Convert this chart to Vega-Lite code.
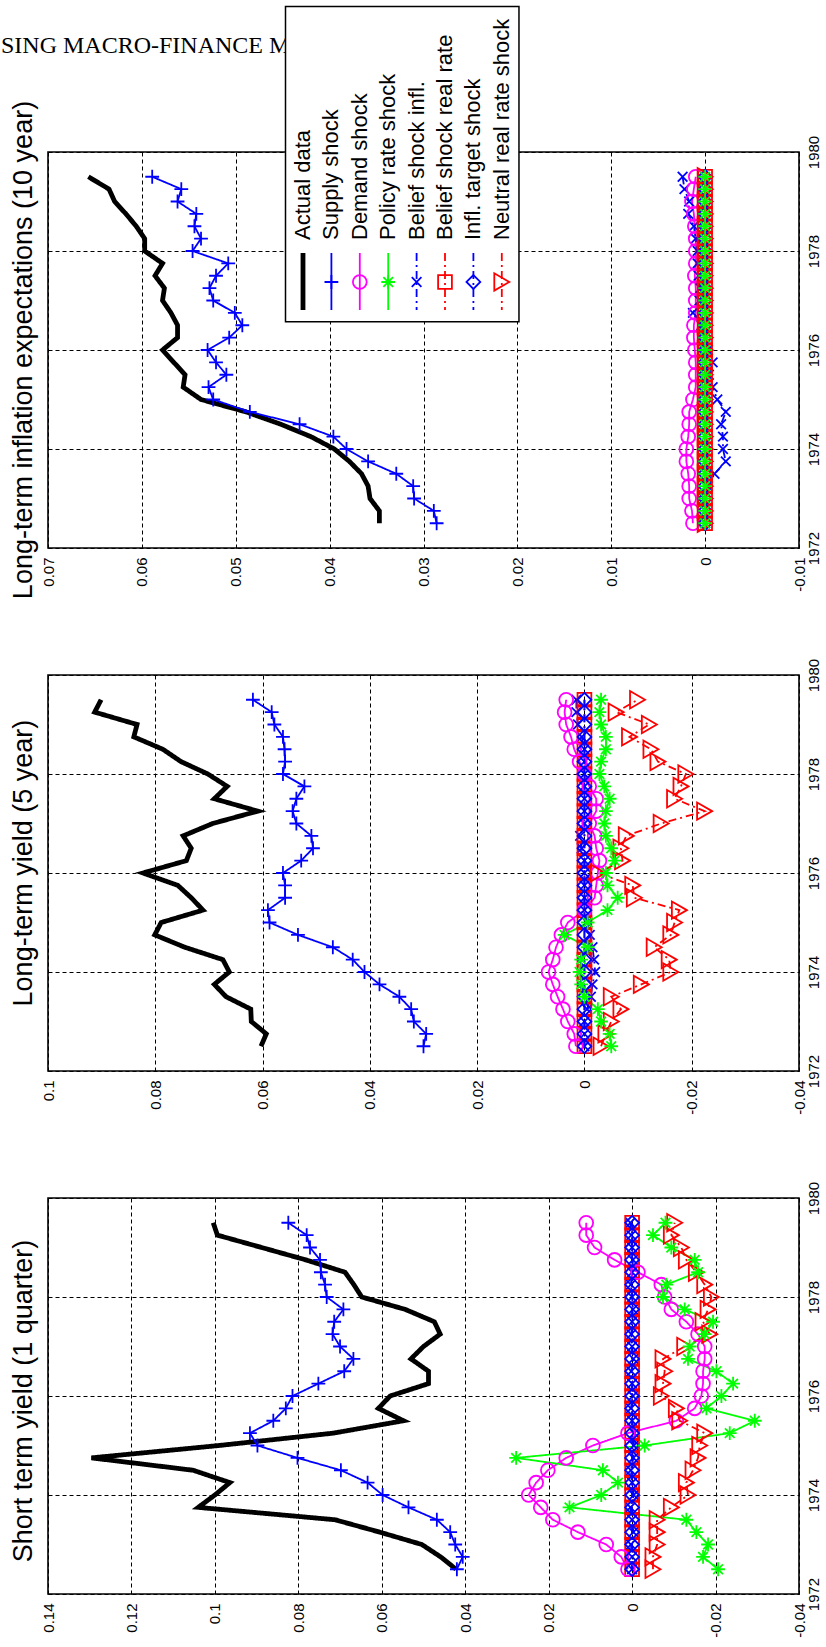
{
  "$schema": "https://vega.github.io/schema/vega-lite/v6.json",
  "background": "white",
  "padding": {"left": 0, "top": 4, "right": 0, "bottom": 0},
  "datasets": {
    "decomp": [
      {"p": 1, "t": 1972.5, "act": 0.0422, "sup": 0.042, "dem": 0.001, "pol": -0.0206, "bi": 0, "br": 0, "it": 0, "nr": -0.005},
      {"p": 1, "t": 1972.75, "act": 0.0459, "sup": 0.0406, "dem": 0.0026, "pol": -0.017, "bi": 0, "br": 0, "it": 0, "nr": -0.005},
      {"p": 1, "t": 1973, "act": 0.0504, "sup": 0.0424, "dem": 0.0062, "pol": -0.0182, "bi": 0.0003, "br": 0, "it": 0, "nr": -0.006},
      {"p": 1, "t": 1973.25, "act": 0.0605, "sup": 0.0436, "dem": 0.013, "pol": -0.0154, "bi": -0.0003, "br": 0, "it": 0, "nr": -0.006},
      {"p": 1, "t": 1973.5, "act": 0.0712, "sup": 0.0468, "dem": 0.019, "pol": -0.013, "bi": 0, "br": 0, "it": 0, "nr": -0.006},
      {"p": 1, "t": 1973.75, "act": 0.104, "sup": 0.0536, "dem": 0.0219, "pol": 0.015, "bi": 0.0004, "br": 0, "it": 0, "nr": -0.0094},
      {"p": 1, "t": 1974, "act": 0.1, "sup": 0.0598, "dem": 0.0248, "pol": 0.0074, "bi": -0.0004, "br": 0, "it": 0, "nr": -0.0134},
      {"p": 1, "t": 1974.25, "act": 0.0964, "sup": 0.0634, "dem": 0.023, "pol": 0.0034, "bi": 0, "br": 0, "it": 0, "nr": -0.013},
      {"p": 1, "t": 1974.5, "act": 0.1052, "sup": 0.0698, "dem": 0.0202, "pol": 0.007, "bi": 0.0003, "br": 0, "it": 0, "nr": -0.0146},
      {"p": 1, "t": 1974.75, "act": 0.1296, "sup": 0.0802, "dem": 0.0158, "pol": 0.0278, "bi": -0.0003, "br": 0, "it": 0, "nr": -0.0158},
      {"p": 1, "t": 1975, "act": 0.099, "sup": 0.0898, "dem": 0.0094, "pol": -0.003, "bi": -0.0004, "br": 0, "it": 0, "nr": -0.0162},
      {"p": 1, "t": 1975.25, "act": 0.0716, "sup": 0.0916, "dem": 0.001, "pol": -0.0234, "bi": -0.0005, "br": 0, "it": 0, "nr": -0.0174},
      {"p": 1, "t": 1975.5, "act": 0.0548, "sup": 0.086, "dem": -0.0106, "pol": -0.0294, "bi": 0, "br": 0, "it": 0, "nr": -0.0114},
      {"p": 1, "t": 1975.75, "act": 0.0608, "sup": 0.083, "dem": -0.015, "pol": -0.0178, "bi": 0.0003, "br": 0, "it": 0, "nr": -0.0106},
      {"p": 1, "t": 1976, "act": 0.058, "sup": 0.0814, "dem": -0.0166, "pol": -0.0214, "bi": -0.0002, "br": 0, "it": 0, "nr": -0.007},
      {"p": 1, "t": 1976.25, "act": 0.0488, "sup": 0.0752, "dem": -0.017, "pol": -0.0242, "bi": 0, "br": 0, "it": 0, "nr": -0.0074},
      {"p": 1, "t": 1976.5, "act": 0.0488, "sup": 0.069, "dem": -0.017, "pol": -0.0202, "bi": 0.0002, "br": 0, "it": 0, "nr": -0.0078},
      {"p": 1, "t": 1976.75, "act": 0.053, "sup": 0.0668, "dem": -0.0174, "pol": -0.0134, "bi": -0.0003, "br": 0, "it": 0, "nr": -0.0074},
      {"p": 1, "t": 1977, "act": 0.05, "sup": 0.07, "dem": -0.0174, "pol": -0.0138, "bi": 0, "br": 0, "it": 0, "nr": -0.0126},
      {"p": 1, "t": 1977.25, "act": 0.046, "sup": 0.0718, "dem": -0.0158, "pol": -0.0174, "bi": 0.0002, "br": 0, "it": 0, "nr": -0.0186},
      {"p": 1, "t": 1977.5, "act": 0.0474, "sup": 0.0714, "dem": -0.013, "pol": -0.0194, "bi": 0, "br": 0, "it": 0, "nr": -0.017},
      {"p": 1, "t": 1977.75, "act": 0.0544, "sup": 0.0692, "dem": -0.0094, "pol": -0.0126, "bi": -0.0002, "br": 0, "it": 0, "nr": -0.0182},
      {"p": 1, "t": 1978, "act": 0.0648, "sup": 0.0732, "dem": -0.0078, "pol": -0.0074, "bi": 0, "br": 0, "it": 0, "nr": -0.019},
      {"p": 1, "t": 1978.25, "act": 0.0667, "sup": 0.0736, "dem": -0.007, "pol": -0.0082, "bi": 0.0003, "br": 0, "it": 0, "nr": -0.0174},
      {"p": 1, "t": 1978.5, "act": 0.0688, "sup": 0.0746, "dem": -0.0014, "pol": -0.0158, "bi": 0, "br": 0, "it": 0, "nr": -0.0154},
      {"p": 1, "t": 1978.75, "act": 0.0782, "sup": 0.0748, "dem": 0.0042, "pol": -0.015, "bi": -0.0002, "br": 0, "it": 0, "nr": -0.013},
      {"p": 1, "t": 1979, "act": 0.0888, "sup": 0.0772, "dem": 0.009, "pol": -0.0094, "bi": 0, "br": 0, "it": 0, "nr": -0.0118},
      {"p": 1, "t": 1979.25, "act": 0.0994, "sup": 0.078, "dem": 0.011, "pol": -0.005, "bi": 0.0002, "br": 0, "it": 0, "nr": -0.0094},
      {"p": 1, "t": 1979.5, "act": 0.1004, "sup": 0.0824, "dem": 0.011, "pol": -0.008, "bi": 0.0004, "br": 0, "it": 0, "nr": -0.0102},

      {"p": 2, "t": 1972.5, "act": 0.0603, "sup": 0.03, "dem": 0.0016, "pol": -0.005, "bi": 0, "br": 0, "it": 0, "nr": -0.0031},
      {"p": 2, "t": 1972.75, "act": 0.0593, "sup": 0.0295, "dem": 0.0019, "pol": -0.0047, "bi": 0, "br": 0, "it": 0, "nr": -0.004},
      {"p": 2, "t": 1973, "act": 0.0621, "sup": 0.0318, "dem": 0.0031, "pol": -0.0031, "bi": 0, "br": 0, "it": 0, "nr": -0.005},
      {"p": 2, "t": 1973.25, "act": 0.0622, "sup": 0.0323, "dem": 0.004, "pol": -0.0025, "bi": -0.0005, "br": 0, "it": 0, "nr": -0.0068},
      {"p": 2, "t": 1973.5, "act": 0.0668, "sup": 0.0345, "dem": 0.005, "pol": 0, "bi": -0.0012, "br": 0, "it": 0, "nr": -0.005},
      {"p": 2, "t": 1973.75, "act": 0.069, "sup": 0.0382, "dem": 0.0059, "pol": 0.0006, "bi": -0.0015, "br": 0, "it": 0, "nr": -0.0106},
      {"p": 2, "t": 1974, "act": 0.0662, "sup": 0.041, "dem": 0.0067, "pol": 0.0009, "bi": -0.002, "br": 0, "it": 0, "nr": -0.0161},
      {"p": 2, "t": 1974.25, "act": 0.0674, "sup": 0.0432, "dem": 0.0059, "pol": 0.0006, "bi": -0.0018, "br": 0, "it": 0, "nr": -0.0158},
      {"p": 2, "t": 1974.5, "act": 0.0745, "sup": 0.0469, "dem": 0.0053, "pol": -0.0006, "bi": -0.0015, "br": 0, "it": 0, "nr": -0.013},
      {"p": 2, "t": 1974.75, "act": 0.0801, "sup": 0.0534, "dem": 0.0043, "pol": 0.0037, "bi": -0.001, "br": 0, "it": 0, "nr": -0.0161},
      {"p": 2, "t": 1975, "act": 0.0789, "sup": 0.0587, "dem": 0.0031, "pol": -0.0006, "bi": -0.0005, "br": 0, "it": 0, "nr": -0.0168},
      {"p": 2, "t": 1975.25, "act": 0.0711, "sup": 0.059, "dem": 0, "pol": -0.0043, "bi": 0, "br": 0, "it": 0, "nr": -0.0177},
      {"p": 2, "t": 1975.5, "act": 0.0733, "sup": 0.0558, "dem": -0.0019, "pol": -0.0062, "bi": 0, "br": 0, "it": 0, "nr": -0.0093},
      {"p": 2, "t": 1975.75, "act": 0.0758, "sup": 0.0558, "dem": -0.0022, "pol": -0.0043, "bi": 0, "br": 0, "it": 0, "nr": -0.009},
      {"p": 2, "t": 1976, "act": 0.0823, "sup": 0.0562, "dem": -0.0025, "pol": -0.004, "bi": 0, "br": 0, "it": 0, "nr": -0.0025},
      {"p": 2, "t": 1976.25, "act": 0.0742, "sup": 0.0528, "dem": -0.0028, "pol": -0.0056, "bi": 0, "br": 0, "it": 0, "nr": -0.0071},
      {"p": 2, "t": 1976.5, "act": 0.0733, "sup": 0.0506, "dem": -0.0022, "pol": -0.005, "bi": 0.0005, "br": 0, "it": 0, "nr": -0.0068},
      {"p": 2, "t": 1976.75, "act": 0.0748, "sup": 0.0509, "dem": -0.0019, "pol": -0.004, "bi": 0.0008, "br": 0, "it": 0, "nr": -0.0078},
      {"p": 2, "t": 1977, "act": 0.0693, "sup": 0.0537, "dem": -0.0009, "pol": -0.0037, "bi": 0, "br": 0, "it": 0, "nr": -0.0143},
      {"p": 2, "t": 1977.25, "act": 0.0609, "sup": 0.0544, "dem": -0.0022, "pol": -0.004, "bi": 0, "br": 0, "it": 0, "nr": -0.0224},
      {"p": 2, "t": 1977.5, "act": 0.069, "sup": 0.0537, "dem": -0.0022, "pol": -0.0047, "bi": 0, "br": 0, "it": 0, "nr": -0.0168},
      {"p": 2, "t": 1977.75, "act": 0.0666, "sup": 0.0522, "dem": -0.0009, "pol": -0.0037, "bi": 0, "br": 0, "it": 0, "nr": -0.018},
      {"p": 2, "t": 1978, "act": 0.0702, "sup": 0.0562, "dem": 0, "pol": -0.0028, "bi": 0, "br": 0, "it": 0, "nr": -0.0189},
      {"p": 2, "t": 1978.25, "act": 0.0752, "sup": 0.0558, "dem": 0.0009, "pol": -0.0031, "bi": 0, "br": 0, "it": 0, "nr": -0.0137},
      {"p": 2, "t": 1978.5, "act": 0.0786, "sup": 0.0559, "dem": 0.0019, "pol": -0.004, "bi": 0, "br": 0, "it": 0, "nr": -0.0124},
      {"p": 2, "t": 1978.75, "act": 0.084, "sup": 0.0562, "dem": 0.0025, "pol": -0.004, "bi": 0.0005, "br": 0, "it": 0, "nr": -0.0084},
      {"p": 2, "t": 1979, "act": 0.0834, "sup": 0.0578, "dem": 0.0034, "pol": -0.0031, "bi": 0.0012, "br": 0, "it": 0, "nr": -0.0121},
      {"p": 2, "t": 1979.25, "act": 0.0913, "sup": 0.0583, "dem": 0.0037, "pol": -0.0028, "bi": 0.0015, "br": 0, "it": 0, "nr": -0.0059},
      {"p": 2, "t": 1979.5, "act": 0.0901, "sup": 0.0618, "dem": 0.0034, "pol": -0.0031, "bi": 0.0015, "br": 0, "it": 0, "nr": -0.0099},

      {"p": 3, "t": 1972.5, "act": 0.0347, "sup": 0.0286, "dem": 0.0013, "pol": 0, "bi": 0, "br": 0, "it": 0, "nr": 0},
      {"p": 3, "t": 1972.75, "act": 0.0347, "sup": 0.0289, "dem": 0.0014, "pol": 0, "bi": 0, "br": 0, "it": 0, "nr": 0},
      {"p": 3, "t": 1973, "act": 0.0357, "sup": 0.031, "dem": 0.0017, "pol": 0, "bi": 0.0001, "br": 0, "it": 0, "nr": 0},
      {"p": 3, "t": 1973.25, "act": 0.0359, "sup": 0.0311, "dem": 0.0017, "pol": 0, "bi": -0.0003, "br": 0, "it": 0, "nr": 0},
      {"p": 3, "t": 1973.5, "act": 0.0366, "sup": 0.0329, "dem": 0.0018, "pol": 0, "bi": -0.001, "br": 0, "it": 0, "nr": 0},
      {"p": 3, "t": 1973.75, "act": 0.0379, "sup": 0.0359, "dem": 0.002, "pol": 0, "bi": -0.0022, "br": 0, "it": 0, "nr": 0},
      {"p": 3, "t": 1974, "act": 0.0395, "sup": 0.0382, "dem": 0.002, "pol": 0, "bi": -0.0019, "br": 0, "it": 0, "nr": 0},
      {"p": 3, "t": 1974.25, "act": 0.042, "sup": 0.0396, "dem": 0.0018, "pol": 0, "bi": -0.0019, "br": 0, "it": 0, "nr": 0},
      {"p": 3, "t": 1974.5, "act": 0.0452, "sup": 0.0432, "dem": 0.0017, "pol": 0, "bi": -0.0017, "br": 0, "it": 0, "nr": 0},
      {"p": 3, "t": 1974.75, "act": 0.0489, "sup": 0.0485, "dem": 0.0017, "pol": 0, "bi": -0.0022, "br": 0, "it": 0, "nr": 0},
      {"p": 3, "t": 1975, "act": 0.0537, "sup": 0.0524, "dem": 0.0013, "pol": 0, "bi": -0.0013, "br": 0, "it": 0, "nr": 0},
      {"p": 3, "t": 1975.25, "act": 0.0556, "sup": 0.0529, "dem": 0.001, "pol": 0, "bi": -0.0008, "br": 0, "it": 0, "nr": 0},
      {"p": 3, "t": 1975.5, "act": 0.0554, "sup": 0.051, "dem": 0.001, "pol": 0, "bi": -0.0004, "br": 0, "it": 0, "nr": 0},
      {"p": 3, "t": 1975.75, "act": 0.0566, "sup": 0.0521, "dem": 0.001, "pol": 0, "bi": -0.0008, "br": 0, "it": 0, "nr": 0},
      {"p": 3, "t": 1976, "act": 0.0578, "sup": 0.053, "dem": 0.0011, "pol": 0, "bi": -0.0003, "br": 0, "it": 0, "nr": 0},
      {"p": 3, "t": 1976.25, "act": 0.0562, "sup": 0.0507, "dem": 0.0012, "pol": 0, "bi": 0, "br": 0, "it": 0, "nr": 0},
      {"p": 3, "t": 1976.5, "act": 0.0562, "sup": 0.0493, "dem": 0.0012, "pol": 0, "bi": 0.0004, "br": 0, "it": 0, "nr": 0},
      {"p": 3, "t": 1976.75, "act": 0.0569, "sup": 0.0501, "dem": 0.001, "pol": 0, "bi": 0.0013, "br": 0, "it": 0, "nr": 0},
      {"p": 3, "t": 1977, "act": 0.0578, "sup": 0.0524, "dem": 0.001, "pol": 0, "bi": 0.0006, "br": 0, "it": 0, "nr": 0},
      {"p": 3, "t": 1977.25, "act": 0.0576, "sup": 0.0528, "dem": 0.001, "pol": 0, "bi": 0.0005, "br": 0, "it": 0, "nr": 0},
      {"p": 3, "t": 1977.5, "act": 0.0586, "sup": 0.0521, "dem": 0.0011, "pol": 0, "bi": 0.0007, "br": 0, "it": 0, "nr": 0},
      {"p": 3, "t": 1977.75, "act": 0.0578, "sup": 0.0508, "dem": 0.001, "pol": 0, "bi": 0.0008, "br": 0, "it": 0, "nr": 0},
      {"p": 3, "t": 1978, "act": 0.0597, "sup": 0.0546, "dem": 0.001, "pol": 0, "bi": 0.0008, "br": 0, "it": 0, "nr": 0},
      {"p": 3, "t": 1978.25, "act": 0.0597, "sup": 0.0537, "dem": 0.001, "pol": 0, "bi": 0.001, "br": 0, "it": 0, "nr": 0},
      {"p": 3, "t": 1978.5, "act": 0.0606, "sup": 0.0544, "dem": 0.0011, "pol": 0, "bi": 0.0012, "br": 0, "it": 0, "nr": 0},
      {"p": 3, "t": 1978.75, "act": 0.0617, "sup": 0.0542, "dem": 0.0012, "pol": 0, "bi": 0.0018, "br": 0, "it": 0, "nr": 0},
      {"p": 3, "t": 1979, "act": 0.0629, "sup": 0.0562, "dem": 0.0014, "pol": 0, "bi": 0.0017, "br": 0, "it": 0, "nr": 0},
      {"p": 3, "t": 1979.25, "act": 0.0635, "sup": 0.0558, "dem": 0.0012, "pol": 0, "bi": 0.0022, "br": 0, "it": 0, "nr": 0},
      {"p": 3, "t": 1979.5, "act": 0.0657, "sup": 0.0589, "dem": 0.001, "pol": 0, "bi": 0.0024, "br": 0, "it": 0, "nr": 0}
    ],
    "legendEntries": [
      {"s": "act", "label": "Actual data"},
      {"s": "sup", "label": "Supply shock"},
      {"s": "dem", "label": "Demand shock"},
      {"s": "pol", "label": "Policy rate shock"},
      {"s": "bi", "label": "Belief shock infl."},
      {"s": "br", "label": "Belief shock real rate"},
      {"s": "it", "label": "Infl. target shock"},
      {"s": "nr", "label": "Neutral real rate shock"}
    ]
  },
  "data": {"name": "decomp"},
  "spacing": 127,
  "bounds": "flush",
  "vconcat": [
    {
      "width": 751,
      "height": 396,
      "transform": [
        {"filter": "datum.p == 3"},
        {"fold": ["act", "sup", "dem", "pol", "bi", "br", "it", "nr"], "as": ["s", "v"]}
      ],
      "layer": [
        {
          "layer": [
            {
              "mark": {"type": "line"},
              "encoding": {
                "x": {"field": "v", "type": "quantitative", "title": null,
                  "scale": {"domain": [-0.01, 0.07], "reverse": true, "nice": false, "zero": false},
                  "axis": {"orient": "bottom", "values": [-0.01, 0, 0.01, 0.02, 0.03, 0.04, 0.05, 0.06, 0.07], "labelExpr": "'' + datum.value", "labelAngle": -90, "labelAlign": "right", "labelBaseline": "middle", "labelPadding": 9, "labelFont": "Liberation Sans", "labelFontSize": 15, "labelColor": "black", "grid": true, "gridColor": "black", "gridDash": [4, 3], "gridOpacity": 1, "gridWidth": 1, "ticks": false, "domain": false, "labelFlush": false, "labelOverlap": false}},
                "y": {"field": "t", "type": "quantitative", "title": null,
                  "scale": {"domain": [1972, 1980], "nice": false, "zero": false},
                  "axis": {"orient": "right", "values": [1972, 1974, 1976, 1978, 1980], "labelExpr": "'' + datum.value", "labelAngle": -90, "labelAlign": "center", "labelBaseline": "top", "labelPadding": 7, "labelFont": "Liberation Sans", "labelFontSize": 15, "labelColor": "black", "grid": true, "gridColor": "black", "gridDash": [4, 3], "gridOpacity": 1, "gridWidth": 1, "ticks": false, "domain": false, "labelFlush": false, "labelOverlap": false}},
                "color": {"field": "s", "type": "nominal", "legend": null,
                  "scale": {"domain": ["act", "sup", "dem", "pol", "bi", "br", "it", "nr"], "range": ["#000000", "#0000ff", "#ff00ff", "#00ff00", "#0000ff", "#ff0000", "#0000ff", "#ff0000"]}},
                "detail": {"field": "s", "type": "nominal"},
                "order": {"field": "t", "type": "quantitative"},
                "strokeWidth": {"condition": {"test": "datum.s === 'act'", "value": 4.8}, "value": 1.8},
                "strokeDash": {"condition": {"test": "indexof(['bi', 'br', 'it', 'nr'], datum.s) >= 0", "value": [8, 4, 2, 4]}, "value": [1, 0]}
              }
            },
            {
              "transform": [{"filter": "datum.s !== 'act'"}],
              "mark": {"type": "point", "filled": false, "opacity": 1, "strokeWidth": 1.8},
              "encoding": {
                "x": {"field": "v", "type": "quantitative", "title": null, "scale": {"domain": [-0.01, 0.07], "reverse": true, "nice": false, "zero": false}},
                "y": {"field": "t", "type": "quantitative", "title": null, "scale": {"domain": [1972, 1980], "nice": false, "zero": false}},
                "color": {"field": "s", "type": "nominal", "legend": null,
                  "scale": {"domain": ["act", "sup", "dem", "pol", "bi", "br", "it", "nr"], "range": ["#000000", "#0000ff", "#ff00ff", "#00ff00", "#0000ff", "#ff0000", "#0000ff", "#ff0000"]}},
                "shape": {"field": "s", "type": "nominal", "legend": null,
                  "scale": {"domain": ["act", "sup", "dem", "pol", "bi", "br", "it", "nr"], "range": ["circle", "M-1,0L1,0M0,-1L0,1", "circle", "M-1,0L1,0M0,-1L0,1M-0.7,-0.7L0.7,0.7M-0.7,0.7L0.7,-0.7", "M-0.7,-0.7L0.7,0.7M-0.7,0.7L0.7,-0.7", "square", "diamond", "triangle-right"]}},
                "size": {"condition": {"test": "datum.s === 'nr'", "value": 300}, "value": 190},
                "order": {"field": "s", "type": "nominal"}
              }
            },
            {
              "data": {"values": [{}]},
              "mark": {"type": "text", "angle": -90, "align": "center", "baseline": "middle", "font": "Liberation Sans", "fontSize": 27, "color": "black"},
              "encoding": {
                "x": {"datum": 0.072557, "type": "quantitative", "title": null, "scale": {"domain": [-0.01, 0.07], "reverse": true, "nice": false, "zero": false}},
                "y": {"datum": 1976, "type": "quantitative", "title": null, "scale": {"domain": [1972, 1980], "nice": false, "zero": false}},
                "text": {"value": "Long-term inflation expectations (10 year)"}
              }
            },
            {
              "data": {"values": [{}]},
              "mark": {"type": "text", "align": "left", "baseline": "alphabetic", "font": "Liberation Serif", "fontSize": 24, "color": "black"},
              "encoding": {
                "x": {"datum": 0.075007, "type": "quantitative", "title": null, "scale": {"domain": [-0.01, 0.07], "reverse": true, "nice": false, "zero": false}},
                "y": {"datum": 1981.99, "type": "quantitative", "title": null, "scale": {"domain": [1972, 1980], "nice": false, "zero": false}},
                "text": {"value": "SING MACRO-FINANCE MODELS"}
              }
            },
            {
              "data": {"values": [{}]},
              "mark": {"type": "rect", "fill": "white", "stroke": "black", "strokeWidth": 1.5},
              "encoding": {
                "x": {"datum": 0.0447, "type": "quantitative", "title": null, "scale": {"domain": [-0.01, 0.07], "reverse": true, "nice": false, "zero": false}},
                "x2": {"datum": 0.01983},
                "y": {"datum": 1982.94, "type": "quantitative", "title": null, "scale": {"domain": [1972, 1980], "nice": false, "zero": false}},
                "y2": {"datum": 1976.572}
              }
            }
          ]
        },
        {
          "data": {"name": "legendEntries"},
          "encoding": {
            "x": {"field": "s", "type": "nominal", "title": null, "axis": null,
              "scale": {"type": "point", "domain": ["act", "sup", "dem", "pol", "bi", "br", "it", "nr"], "range": [255, 453.8], "padding": 0}},
            "color": {"field": "s", "type": "nominal", "legend": null,
              "scale": {"domain": ["act", "sup", "dem", "pol", "bi", "br", "it", "nr"], "range": ["#000000", "#0000ff", "#ff00ff", "#00ff00", "#0000ff", "#ff0000", "#0000ff", "#ff0000"]}}
          },
          "layer": [
            {
              "mark": {"type": "rule"},
              "encoding": {
                "y": {"datum": 1977.96, "type": "quantitative", "title": null, "scale": {"domain": [1972, 1980], "nice": false, "zero": false}},
                "y2": {"datum": 1976.81},
                "strokeWidth": {"condition": {"test": "datum.s === 'act'", "value": 4.8}, "value": 1.8},
                "strokeDash": {"condition": {"test": "indexof(['bi', 'br', 'it', 'nr'], datum.s) >= 0", "value": [8, 4, 2, 4]}, "value": [1, 0]}
              }
            },
            {
              "transform": [{"filter": "datum.s !== 'act'"}],
              "mark": {"type": "point", "filled": false, "opacity": 1, "strokeWidth": 1.8},
              "encoding": {
                "y": {"datum": 1977.374, "type": "quantitative", "title": null, "scale": {"domain": [1972, 1980], "nice": false, "zero": false}},
                "shape": {"field": "s", "type": "nominal", "legend": null,
                  "scale": {"domain": ["act", "sup", "dem", "pol", "bi", "br", "it", "nr"], "range": ["circle", "M-1,0L1,0M0,-1L0,1", "circle", "M-1,0L1,0M0,-1L0,1M-0.7,-0.7L0.7,0.7M-0.7,0.7L0.7,-0.7", "M-0.7,-0.7L0.7,0.7M-0.7,0.7L0.7,-0.7", "square", "diamond", "triangle-right"]}},
                "size": {"condition": {"test": "datum.s === 'nr'", "value": 300}, "value": 190}
              }
            },
            {
              "mark": {"type": "text", "angle": -90, "align": "left", "baseline": "middle", "font": "Liberation Sans", "fontSize": 22},
              "encoding": {
                "y": {"datum": 1978.222, "type": "quantitative", "title": null, "scale": {"domain": [1972, 1980], "nice": false, "zero": false}},
                "text": {"field": "label", "type": "nominal"},
                "color": {"value": "black"}
              }
            }
          ]
        }
      ],
      "resolve": {"scale": {"x": "independent"}}
    },
    {
      "width": 751,
      "height": 396,
      "transform": [
        {"filter": "datum.p == 2"},
        {"fold": ["act", "sup", "dem", "pol", "bi", "br", "it", "nr"], "as": ["s", "v"]}
      ],
      "layer": [
        {
          "mark": {"type": "line"},
          "encoding": {
            "x": {"field": "v", "type": "quantitative", "title": null,
              "scale": {"domain": [-0.04, 0.1], "reverse": true, "nice": false, "zero": false},
              "axis": {"orient": "bottom", "values": [-0.04, -0.02, 0, 0.02, 0.04, 0.06, 0.08, 0.1], "labelExpr": "'' + datum.value", "labelAngle": -90, "labelAlign": "right", "labelBaseline": "middle", "labelPadding": 9, "labelFont": "Liberation Sans", "labelFontSize": 15, "labelColor": "black", "grid": true, "gridColor": "black", "gridDash": [4, 3], "gridOpacity": 1, "gridWidth": 1, "ticks": false, "domain": false, "labelFlush": false, "labelOverlap": false}},
            "y": {"field": "t", "type": "quantitative", "title": null,
              "scale": {"domain": [1972, 1980], "nice": false, "zero": false},
              "axis": {"orient": "right", "values": [1972, 1974, 1976, 1978, 1980], "labelExpr": "'' + datum.value", "labelAngle": -90, "labelAlign": "center", "labelBaseline": "top", "labelPadding": 7, "labelFont": "Liberation Sans", "labelFontSize": 15, "labelColor": "black", "grid": true, "gridColor": "black", "gridDash": [4, 3], "gridOpacity": 1, "gridWidth": 1, "ticks": false, "domain": false, "labelFlush": false, "labelOverlap": false}},
            "color": {"field": "s", "type": "nominal", "legend": null,
              "scale": {"domain": ["act", "sup", "dem", "pol", "bi", "br", "it", "nr"], "range": ["#000000", "#0000ff", "#ff00ff", "#00ff00", "#0000ff", "#ff0000", "#0000ff", "#ff0000"]}},
            "detail": {"field": "s", "type": "nominal"},
            "order": {"field": "t", "type": "quantitative"},
            "strokeWidth": {"condition": {"test": "datum.s === 'act'", "value": 4.8}, "value": 1.8},
            "strokeDash": {"condition": {"test": "indexof(['bi', 'br', 'it', 'nr'], datum.s) >= 0", "value": [8, 4, 2, 4]}, "value": [1, 0]}
          }
        },
        {
          "transform": [{"filter": "datum.s !== 'act'"}],
          "mark": {"type": "point", "filled": false, "opacity": 1, "strokeWidth": 1.8},
          "encoding": {
            "x": {"field": "v", "type": "quantitative", "title": null, "scale": {"domain": [-0.04, 0.1], "reverse": true, "nice": false, "zero": false}},
            "y": {"field": "t", "type": "quantitative", "title": null, "scale": {"domain": [1972, 1980], "nice": false, "zero": false}},
            "color": {"field": "s", "type": "nominal", "legend": null,
              "scale": {"domain": ["act", "sup", "dem", "pol", "bi", "br", "it", "nr"], "range": ["#000000", "#0000ff", "#ff00ff", "#00ff00", "#0000ff", "#ff0000", "#0000ff", "#ff0000"]}},
            "shape": {"field": "s", "type": "nominal", "legend": null,
              "scale": {"domain": ["act", "sup", "dem", "pol", "bi", "br", "it", "nr"], "range": ["circle", "M-1,0L1,0M0,-1L0,1", "circle", "M-1,0L1,0M0,-1L0,1M-0.7,-0.7L0.7,0.7M-0.7,0.7L0.7,-0.7", "M-0.7,-0.7L0.7,0.7M-0.7,0.7L0.7,-0.7", "square", "diamond", "triangle-right"]}},
            "size": {"condition": {"test": "datum.s === 'nr'", "value": 300}, "value": 190},
            "order": {"field": "s", "type": "nominal"}
          }
        },
        {
          "data": {"values": [{}]},
          "mark": {"type": "text", "angle": -90, "align": "center", "baseline": "middle", "font": "Liberation Sans", "fontSize": 27, "color": "black"},
          "encoding": {
            "x": {"datum": 0.104474, "type": "quantitative", "title": null, "scale": {"domain": [-0.04, 0.1], "reverse": true, "nice": false, "zero": false}},
            "y": {"datum": 1976.2, "type": "quantitative", "title": null, "scale": {"domain": [1972, 1980], "nice": false, "zero": false}},
            "text": {"value": "Long-term yield (5 year)"}
          }
        }
      ]
    },
    {
      "width": 751,
      "height": 396,
      "transform": [
        {"filter": "datum.p == 1"},
        {"fold": ["act", "sup", "dem", "pol", "bi", "br", "it", "nr"], "as": ["s", "v"]}
      ],
      "layer": [
        {
          "mark": {"type": "line"},
          "encoding": {
            "x": {"field": "v", "type": "quantitative", "title": null,
              "scale": {"domain": [-0.04, 0.14], "reverse": true, "nice": false, "zero": false},
              "axis": {"orient": "bottom", "values": [-0.04, -0.02, 0, 0.02, 0.04, 0.06, 0.08, 0.1, 0.12, 0.14], "labelExpr": "'' + datum.value", "labelAngle": -90, "labelAlign": "right", "labelBaseline": "middle", "labelPadding": 9, "labelFont": "Liberation Sans", "labelFontSize": 15, "labelColor": "black", "grid": true, "gridColor": "black", "gridDash": [4, 3], "gridOpacity": 1, "gridWidth": 1, "ticks": false, "domain": false, "labelFlush": false, "labelOverlap": false}},
            "y": {"field": "t", "type": "quantitative", "title": null,
              "scale": {"domain": [1972, 1980], "nice": false, "zero": false},
              "axis": {"orient": "right", "values": [1972, 1974, 1976, 1978, 1980], "labelExpr": "'' + datum.value", "labelAngle": -90, "labelAlign": "center", "labelBaseline": "top", "labelPadding": 7, "labelFont": "Liberation Sans", "labelFontSize": 15, "labelColor": "black", "grid": true, "gridColor": "black", "gridDash": [4, 3], "gridOpacity": 1, "gridWidth": 1, "ticks": false, "domain": false, "labelFlush": false, "labelOverlap": false}},
            "color": {"field": "s", "type": "nominal", "legend": null,
              "scale": {"domain": ["act", "sup", "dem", "pol", "bi", "br", "it", "nr"], "range": ["#000000", "#0000ff", "#ff00ff", "#00ff00", "#0000ff", "#ff0000", "#0000ff", "#ff0000"]}},
            "detail": {"field": "s", "type": "nominal"},
            "order": {"field": "t", "type": "quantitative"},
            "strokeWidth": {"condition": {"test": "datum.s === 'act'", "value": 4.8}, "value": 1.8},
            "strokeDash": {"condition": {"test": "indexof(['bi', 'br', 'it', 'nr'], datum.s) >= 0", "value": [8, 4, 2, 4]}, "value": [1, 0]}
          }
        },
        {
          "transform": [{"filter": "datum.s !== 'act'"}],
          "mark": {"type": "point", "filled": false, "opacity": 1, "strokeWidth": 1.8},
          "encoding": {
            "x": {"field": "v", "type": "quantitative", "title": null, "scale": {"domain": [-0.04, 0.14], "reverse": true, "nice": false, "zero": false}},
            "y": {"field": "t", "type": "quantitative", "title": null, "scale": {"domain": [1972, 1980], "nice": false, "zero": false}},
            "color": {"field": "s", "type": "nominal", "legend": null,
              "scale": {"domain": ["act", "sup", "dem", "pol", "bi", "br", "it", "nr"], "range": ["#000000", "#0000ff", "#ff00ff", "#00ff00", "#0000ff", "#ff0000", "#0000ff", "#ff0000"]}},
            "shape": {"field": "s", "type": "nominal", "legend": null,
              "scale": {"domain": ["act", "sup", "dem", "pol", "bi", "br", "it", "nr"], "range": ["circle", "M-1,0L1,0M0,-1L0,1", "circle", "M-1,0L1,0M0,-1L0,1M-0.7,-0.7L0.7,0.7M-0.7,0.7L0.7,-0.7", "M-0.7,-0.7L0.7,0.7M-0.7,0.7L0.7,-0.7", "square", "diamond", "triangle-right"]}},
            "size": {"condition": {"test": "datum.s === 'nr'", "value": 300}, "value": 190},
            "order": {"field": "s", "type": "nominal"}
          }
        },
        {
          "data": {"values": [{}]},
          "mark": {"type": "text", "angle": -90, "align": "center", "baseline": "middle", "font": "Liberation Sans", "fontSize": 27, "color": "black"},
          "encoding": {
            "x": {"datum": 0.145752, "type": "quantitative", "title": null, "scale": {"domain": [-0.04, 0.14], "reverse": true, "nice": false, "zero": false}},
            "y": {"datum": 1975.9, "type": "quantitative", "title": null, "scale": {"domain": [1972, 1980], "nice": false, "zero": false}},
            "text": {"value": "Short term yield (1 quarter)"}
          }
        }
      ]
    }
  ],
  "config": {
    "view": {"stroke": "black", "strokeWidth": 1.6},
    "text": {"font": "Liberation Sans", "color": "black"}
  }
}
